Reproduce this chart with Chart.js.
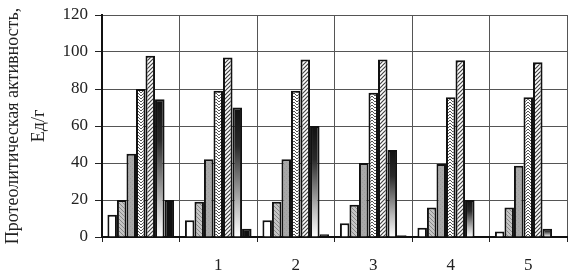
<!DOCTYPE html>
<html><head><meta charset="utf-8">
<script src="https://cdn.jsdelivr.net/npm/chart.js@4/dist/chart.umd.min.js"></script>
<style>html,body{margin:0;padding:0;background:#fff}#wrap{width:570px;height:277px}
.fl{font-family:"Liberation Serif";position:absolute;left:-999px}</style>
</head><body><span class="fl">Протеолитическая 120</span><div id="wrap"><canvas id="c"></canvas></div>
<script>
const categories = ["", "1", "2", "3", "4", "5"];
const s1 = [12, 9, 9, 7.5, 5, 3];
const s2 = [20, 19, 19, 17.5, 16, 16];
const s3 = [45, 42, 42, 40, 39.5, 38.5];
const s4 = [80, 79, 79, 78, 75.5, 75.5];
const s5 = [98, 97, 96, 96, 95.5, 94.5];
const s6 = [74.5, 70, 60, 47, 20, 4.5];
const s7 = [20, 4.5, 1.5, 1, 0.4, 0.4];
const yTicks = [0, 20, 40, 60, 80, 100, 120];

function pattern(size, draw){
  const cv = document.createElement('canvas'); cv.width = size; cv.height = size;
  const g = cv.getContext('2d'); draw(g, size);
  return g.createPattern(cv, 'repeat');
}
const pLight = pattern(4, (g,s)=>{ g.fillStyle='#c4c4c4'; g.fillRect(0,0,s,s); g.strokeStyle='#888'; g.lineWidth=1; g.beginPath(); g.moveTo(0,0); g.lineTo(s,s); g.stroke(); });
const pGray = pattern(4, (g,s)=>{ g.fillStyle='#a8a8a8'; g.fillRect(0,0,s,s); g.fillStyle='#9c9c9c'; g.fillRect(0,0,1,1); g.fillRect(2,2,1,1); });
const pZig = pattern(6, (g,s)=>{ g.fillStyle='#fff'; g.fillRect(0,0,s,s); g.strokeStyle='#555'; g.lineWidth=1; g.beginPath(); g.moveTo(0,0); g.lineTo(3,3); g.lineTo(6,0); g.moveTo(0,3); g.lineTo(3,6); g.lineTo(6,3); g.stroke(); });
const pHatch = pattern(4, (g,s)=>{ g.fillStyle='#fff'; g.fillRect(0,0,s,s); g.strokeStyle='#444'; g.lineWidth=1.2; g.beginPath(); g.moveTo(0,s); g.lineTo(s,0); g.moveTo(-1,1); g.lineTo(1,-1); g.moveTo(s-1,s+1); g.lineTo(s+1,s-1); g.stroke(); });

function gradFill(ctx){
  const chart = ctx.chart; const area = chart.chartArea;
  if (!area || ctx.raw === undefined) return '#444';
  const y = chart.scales.y;
  const top = y.getPixelForValue(ctx.raw), base = y.getPixelForValue(0);
  if (!(base - top > 0)) return '#222';
  const g = chart.ctx.createLinearGradient(0, top, 0, base);
  g.addColorStop(0, '#111'); g.addColorStop(0.3, '#2a2a2a'); g.addColorStop(0.75, '#bbb'); g.addColorStop(1, '#fff');
  return g;
}

const common = { borderColor: '#111', borderWidth: 2, categoryPercentage: 0.86, barPercentage: 1.0 };
const fontFam = '"Liberation Serif", "Times New Roman", Times, serif';

function draw(){
new Chart(document.getElementById('c'), {
  type: 'bar',
  data: {
    labels: categories,
    datasets: [
      Object.assign({ label: 'Серия 1', data: s1, backgroundColor: '#fff' }, common),
      Object.assign({ label: 'Серия 2', data: s2, backgroundColor: pLight }, common),
      Object.assign({ label: 'Серия 3', data: s3, backgroundColor: pGray }, common),
      Object.assign({ label: 'Серия 4', data: s4, backgroundColor: pZig }, common),
      Object.assign({ label: 'Серия 5', data: s5, backgroundColor: pHatch }, common),
      Object.assign({ label: 'Серия 6', data: s6, backgroundColor: gradFill }, common),
      Object.assign({ label: 'Серия 7', data: s7, backgroundColor: '#111' }, common)
    ]
  },
  options: {
    responsive: true, maintainAspectRatio: false, animation: false,
    layout: { padding: { top: 15, right: 3, left: 0, bottom: 0 } },
    plugins: { legend: { display: false }, tooltip: { enabled: false } },
    scales: {
      x: {
        grid: { color: '#555', lineWidth: 1, tickLength: 5, offset: true, tickColor: '#222' },
        border: { color: '#111', width: 2 },
        ticks: { color: '#222', padding: 13, font: { family: fontFam, size: 17 } },
        afterFit: s => { s.height = 40; s.paddingLeft = 0; s.paddingRight = 0; }
      },
      y: {
        min: 0, max: 120,
        afterBuildTicks: s => { s.ticks = yTicks.map(v => ({ value: v })); },
        grid: { color: '#555', lineWidth: 1, tickLength: 7, tickColor: '#222' },
        border: { color: '#111', width: 2 },
        ticks: { color: '#222', padding: 7, font: { family: fontFam, size: 17 } },
        title: { display: true, text: ['Протеолитическая активность,', 'Ед/г'], color: '#222', padding: { top: 0, bottom: 4 }, font: { family: fontFam, size: 18, lineHeight: 1.45 } },
        afterFit: s => { s.width = 102; s.paddingTop = 0; s.paddingBottom = 0; }
      }
    }
  }
});
}
if (document.fonts && document.fonts.load) {
  Promise.all([document.fonts.load('17px "Liberation Serif"', 'Протеолитическая 120')]).then(draw, draw);
} else draw();
</script></body></html>
